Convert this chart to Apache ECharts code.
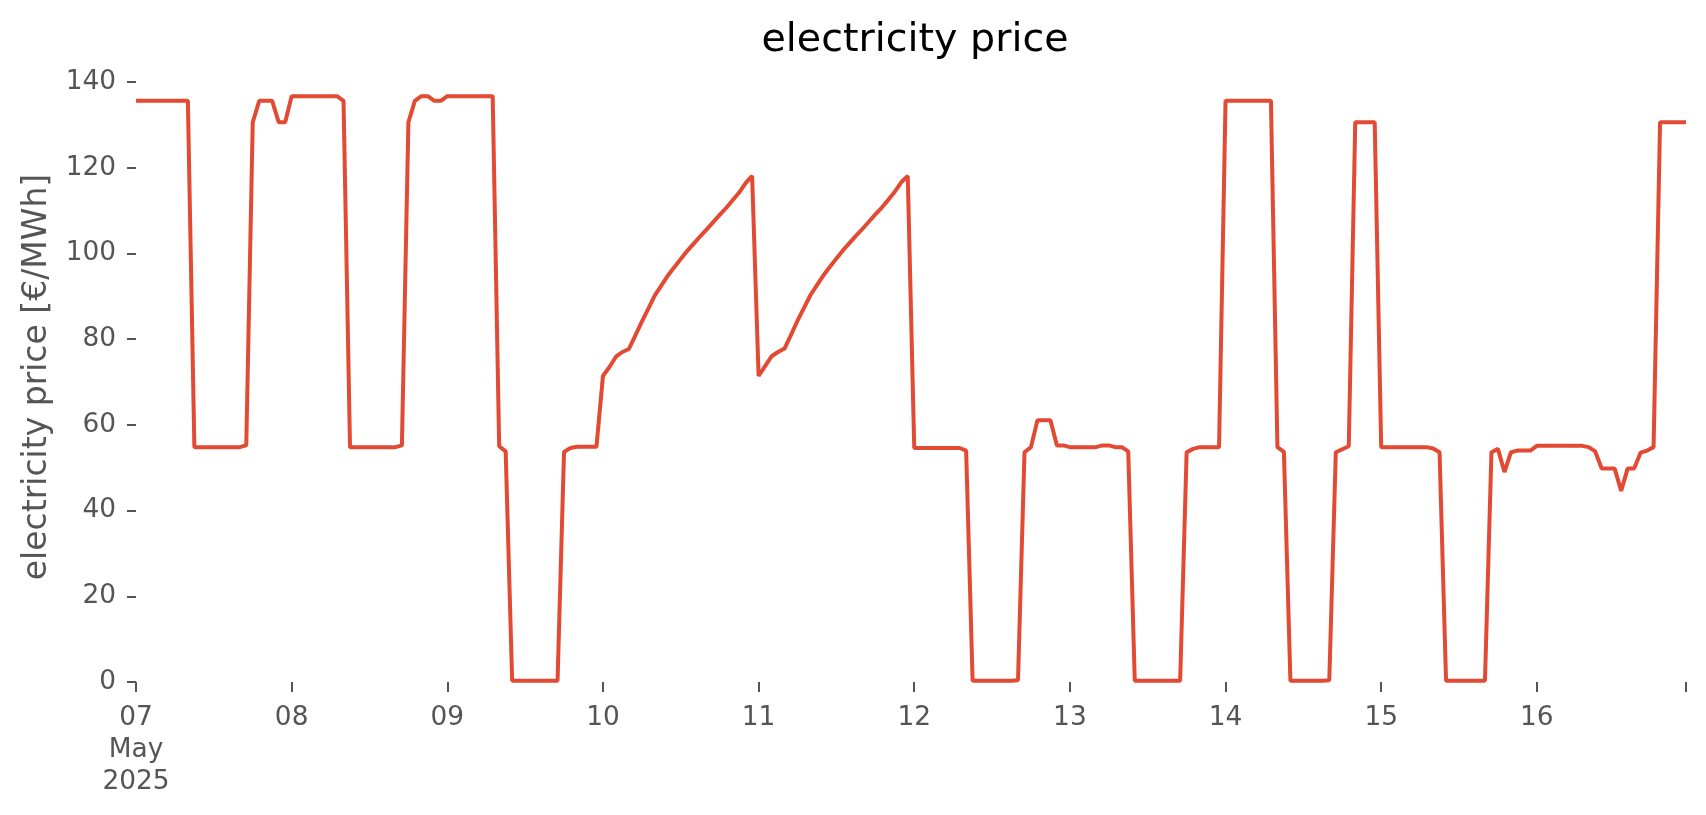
<!DOCTYPE html>
<html>
<head>
<meta charset="utf-8">
<script src="https://cdn.jsdelivr.net/npm/echarts@6/dist/echarts.min.js"></script>
<style>
html,body{margin:0;padding:0;background:#fff;}
#chart{width:1706px;height:815px;}
</style>
</head>
<body>
<div id="chart"></div>
<script>
// Hourly electricity price [€/MWh], one array per day (hours 00..23), May 2025
const may07 = [135.6,135.6,135.6,135.6,135.6,135.6,135.6,135.6,135.6,54.8,54.8,54.8,54.8,54.8,54.8,54.8,54.8,55.2,130.6,135.6,135.6,135.6,130.6,130.6];
const may08 = [136.7,136.7,136.7,136.7,136.7,136.7,136.7,136.7,135.6,54.8,54.8,54.8,54.8,54.8,54.8,54.8,54.8,55.2,130.6,135.6,136.7,136.7,135.6,135.6];
const may09 = [136.7,136.7,136.7,136.7,136.7,136.7,136.7,136.7,55.0,53.8,0.3,0.3,0.3,0.3,0.3,0.3,0.3,0.3,53.7,54.6,54.9,54.9,54.9,54.9];
const may10 = [71.4,73.5,75.9,77.0,77.7,80.9,84.1,87.1,90.2,92.5,94.8,96.8,98.7,100.6,102.3,104.0,105.6,107.3,109.0,110.6,112.4,114.2,116.4,118.1];
const may11 = [71.4,73.7,76.0,77.0,77.8,81.0,84.3,87.3,90.3,92.6,94.9,96.9,98.8,100.7,102.4,104.1,105.7,107.4,109.1,110.7,112.5,114.4,116.6,118.1];
const may12 = [54.6,54.6,54.6,54.6,54.6,54.6,54.6,54.6,54.0,0.3,0.3,0.3,0.3,0.3,0.3,0.3,0.4,53.6,54.8,61.1,61.1,61.1,55.2,55.2];
const may13 = [54.8,54.8,54.8,54.8,54.8,55.2,55.2,54.8,54.8,53.8,0.3,0.3,0.3,0.3,0.3,0.3,0.3,0.3,53.6,54.4,54.8,54.8,54.8,54.8];
const may14 = [135.6,135.6,135.6,135.6,135.6,135.6,135.6,135.6,54.8,53.7,0.3,0.3,0.3,0.3,0.3,0.3,0.4,53.6,54.3,55.0,130.6,130.6,130.6,130.6];
const may15 = [54.8,54.8,54.8,54.8,54.8,54.8,54.8,54.8,54.5,53.6,0.3,0.3,0.3,0.3,0.3,0.3,0.3,53.6,54.4,49.0,53.6,54.0,54.0,54.0];
const may16 = [55.1,55.1,55.1,55.1,55.1,55.1,55.1,55.1,54.8,53.8,49.8,49.8,49.8,44.6,49.8,49.8,53.5,54.0,54.8,130.6,130.6,130.6,130.6,130.6];

const days = [may07, may08, may09, may10, may11, may12, may13, may14, may15, may16];
const yTicks = [0, 20, 40, 60, 80, 100, 120, 140];
const titleText = 'electricity price';
const yName = 'electricity price [€/MWh]';

const HOUR = 3600000, DAY = 86400000;
const start = Date.UTC(2025, 4, 7);
const prices = [].concat(...days);
const seriesData = prices.map((v, i) => [start + i * HOUR, v]);
const end = start + (prices.length - 1) * HOUR;

const FONT = 'DejaVu Sans';
const GREY = '#555555';

const chart = echarts.init(document.getElementById('chart'), null, {renderer: 'canvas'});
chart.setOption({
  backgroundColor: '#ffffff',
  animation: false,
  title: {
    text: titleText,
    left: 910,
    textAlign: 'center',
    top: 16,
    textStyle: {fontFamily: FONT, fontSize: 39.6, fontWeight: 'normal', color: '#000000'}
  },
  grid: {left: 136, right: 20, top: 82, bottom: 133, containLabel: false},
  xAxis: {
    type: 'value',
    min: start,
    max: end,
    interval: DAY,
    axisLine: {show: false},
    splitLine: {show: false},
    axisTick: {show: true, length: 10, lineStyle: {color: GREY, width: 2}},
    axisLabel: {
      show: true,
      showMinLabel: true,
      showMaxLabel: true,
      margin: 20,
      fontFamily: FONT,
      fontSize: 26.4,
      lineHeight: 32,
      color: GREY,
      formatter: function (v) {
        if (v >= end) return '';
        const d = new Date(v);
        const dd = String(d.getUTCDate()).padStart(2, '0');
        if (v === start) return dd + '\nMay\n2025';
        return dd;
      }
    }
  },
  yAxis: {
    type: 'value',
    min: yTicks[0],
    max: yTicks[yTicks.length - 1],
    interval: yTicks[1] - yTicks[0],
    name: yName,
    nameLocation: 'middle',
    nameGap: 82,
    nameTextStyle: {fontFamily: FONT, fontSize: 33, color: GREY, padding: [0, 0, 0, 10]},
    axisLine: {show: false},
    splitLine: {show: false},
    axisTick: {show: true, length: 9, lineStyle: {color: GREY, width: 2}},
    axisLabel: {margin: 20, fontFamily: FONT, fontSize: 26.4, color: GREY}
  },
  series: [{
    type: 'line',
    data: seriesData,
    showSymbol: false,
    symbol: 'none',
    lineStyle: {color: '#E24A33', width: 4},
    itemStyle: {color: '#E24A33'}
  }]
});
</script>
</body>
</html>
